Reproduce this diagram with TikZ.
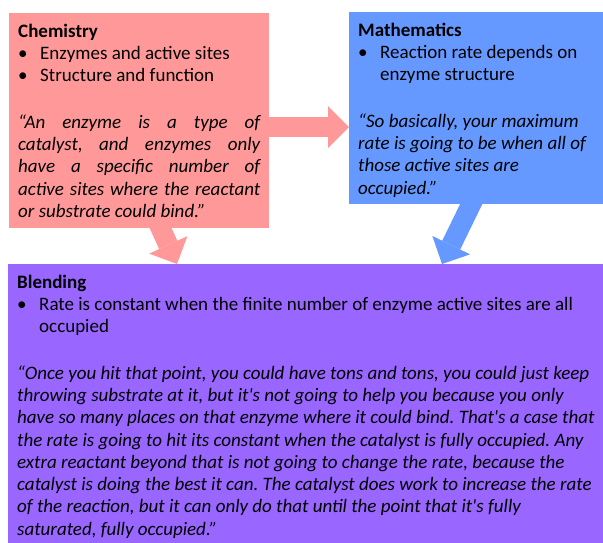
\documentclass[tikz,border=0pt]{standalone}
\usepackage{fontspec}
\setmainfont{Carlito}
\usetikzlibrary{arrows.meta}

\definecolor{chemred}{HTML}{FF9999}
\definecolor{mathblue}{HTML}{6699FF}
\definecolor{blendpurple}{HTML}{9966FF}

\setlength{\parindent}{0pt}
\frenchspacing
\newcommand{\bitem}[1]{\par\noindent\hangindent=22pt\hangafter=1\makebox[22pt][l]{\textbullet}#1\par}
\newcommand{\sq}{\textquotesingle}

\tikzset{
  box/.style={anchor=north west, inner xsep=9pt, inner ysep=6pt, text height=18pt,
    align=justify, font=\fontsize{19pt}{22.3pt}\selectfont},
  fatarrow/.style={line width=20pt, -{Triangle[length=21pt, width=42pt, line width=0pt]}}
}

\begin{document}
\begin{tikzpicture}[x=1pt, y=-1pt]
  \useasboundingbox (0,0) rectangle (603,542);

  % Chemistry box
  \node[box, fill=chemred, text width=242pt, text depth=185pt] (chem) at (9,13) {%
    \textbf{Chemistry}\par
    \bitem{Enzymes and active sites}
    \bitem{Structure and function}
    \vspace{24pt}
    \textit{“An enzyme is a type of\linebreak catalyst, and enzymes only\linebreak
    have a specific number of\linebreak active sites where the reactant\linebreak
    or substrate could bind.”}};

  % Mathematics box
  \node[box, fill=mathblue, text width=245pt, text depth=162pt] (math) at (349,12) {%
    \textbf{Mathematics}\par
    \bitem{Reaction rate depends on\newline enzyme structure}
    \vspace{24pt}
    \textit{“So basically, your maximum\newline rate is going to be when all of\newline
    those active sites are\newline occupied.”}};

  % Blending box
  \node[box, fill=blendpurple, text width=600pt, text depth=260pt] (blend) at (8,264) {%
    \textbf{Blending}\par
    \bitem{Rate is constant when the finite number of enzyme active sites are all\newline occupied}
    \vspace{24pt}
    \textit{“Once you hit that point, you could have tons and tons, you could just keep\newline
    throwing substrate at it, but it\sq s not going to help you because you only\newline
    have so many places on that enzyme where it could bind. That\sq s a case that\newline
    the rate is going to hit its constant when the catalyst is fully occupied. Any\newline
    extra reactant beyond that is not going to change the rate, because the\newline
    catalyst is doing the best it can. The catalyst does work to increase the rate\newline
    of the reaction, but it can only do that until the point that it\sq s fully\newline
    saturated, fully occupied.”}};

  % Arrows between the boxes
  \coordinate (rh) at ([yshift=-114pt]chem.north east);
  \coordinate (rd) at ([xshift=149pt, yshift=6pt]chem.south west);
  \coordinate (rt) at ([xshift=169pt]blend.north west);
  \coordinate (bd) at ([xshift=125pt, yshift=6pt]math.south west);
  \coordinate (bt) at ([xshift=434pt]blend.north west);

  \draw[fatarrow, chemred] (rh) -- (rh -| math.west);
  \draw[fatarrow, chemred] (rd) -- (rt);
  \draw[fatarrow, mathblue] (bd) -- (bt);
\end{tikzpicture}
\end{document}
